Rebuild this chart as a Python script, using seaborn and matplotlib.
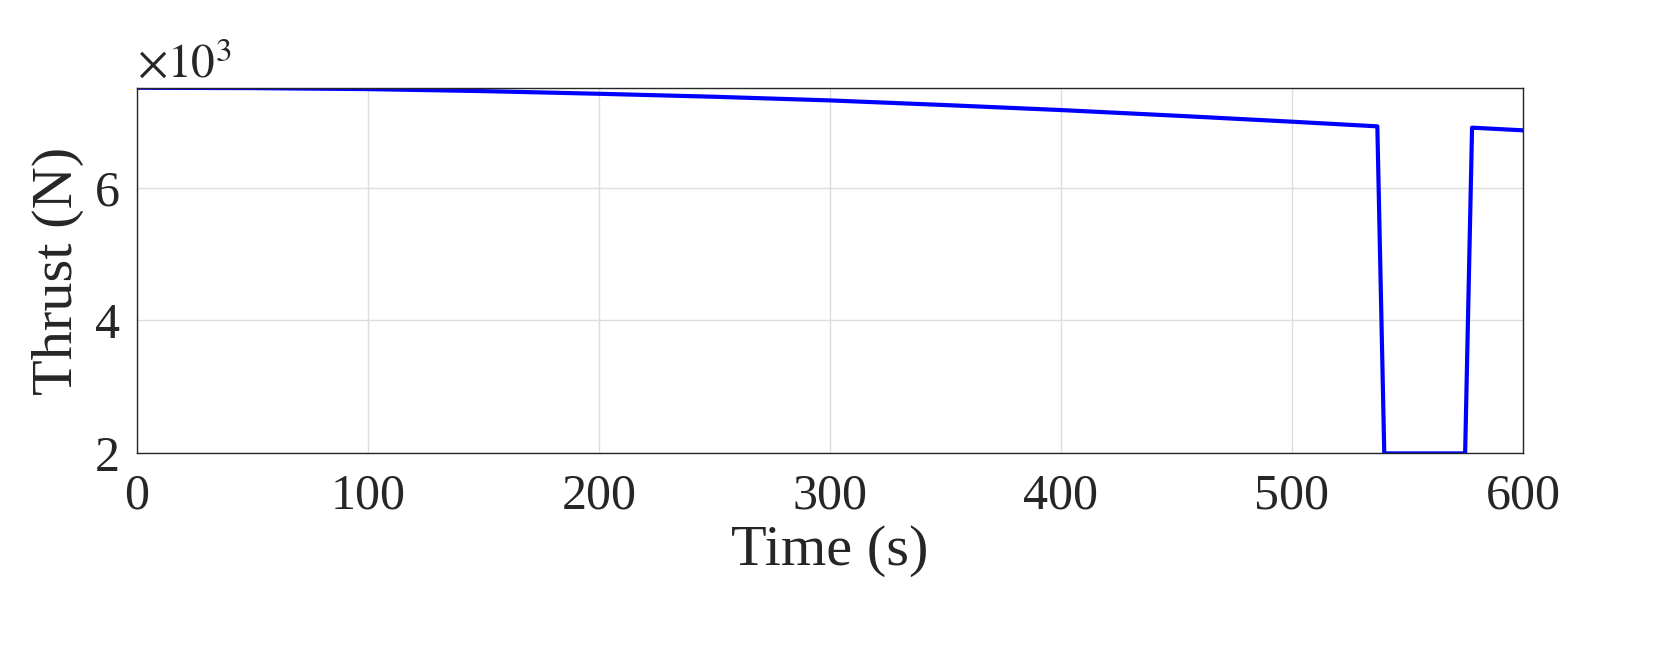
import matplotlib
matplotlib.use("Agg")
import matplotlib.pyplot as plt
import seaborn as sns
import pandas as pd

time_s = [0, 50, 100, 150, 200, 250, 300, 350, 400, 450, 500, 537, 540, 575, 578, 600]
thrust_n = [7500, 7495, 7480, 7450, 7410, 7365, 7310, 7240, 7165, 7080, 6990, 6920, 2000, 2000, 6900, 6860]
df = pd.DataFrame({"t": time_s, "F": thrust_n})

sns.set_style("white")
plt.rcParams['font.family'] = ['Liberation Serif', 'DejaVu Serif']
plt.rcParams['mathtext.fontset'] = 'stix'
fig, ax = plt.subplots(figsize=(16.68, 6.6), dpi=100)
fig.subplots_adjust(left=0.082, right=0.913, top=0.867, bottom=0.313)
sns.lineplot(data=df, x="t", y="F", ax=ax, color="#0000ff", linewidth=3)
ax.set_xlim(0, 600)
ax.set_ylim(2000, 7500)
ax.set_xticks([0, 100, 200, 300, 400, 500, 600])
ax.set_yticks([2000, 4000, 6000])
ax.set_yticklabels(["2", "4", "6"])
ax.grid(True, color="#dddddd", linewidth=1)
for s in ax.spines.values():
    s.set_color("#262626"); s.set_linewidth(1)
ax.tick_params(labelsize=36, colors="#262626", direction="in", length=8)
ax.tick_params(axis="x", pad=14)
ax.tick_params(axis="y", pad=12)
ax.set_xlabel("Time (s)", fontsize=42, labelpad=4)
ax.set_ylabel("Thrust (N)", fontsize=42, labelpad=8)
ax.text(0.0, 1.0, r"$\times10^3$", transform=ax.transAxes, fontsize=34, va="bottom", ha="left")
fig.savefig("out.png", dpi=100)
